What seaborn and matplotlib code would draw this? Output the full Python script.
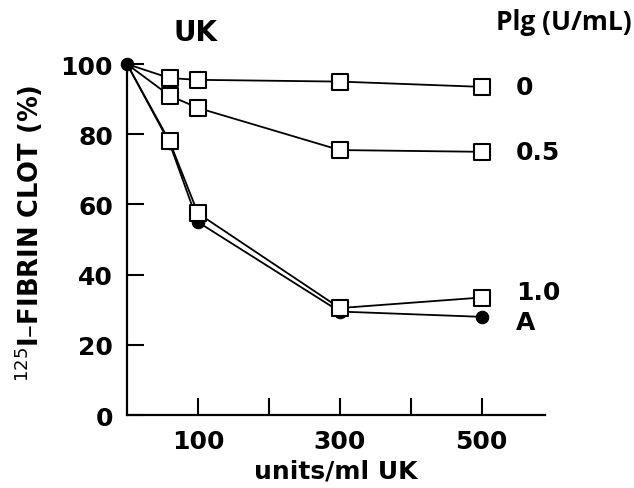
import pandas as pd
import matplotlib
matplotlib.use("Agg")
import matplotlib.pyplot as plt
import seaborn as sns

# UK concentration (units/ml)
uk_units = [0, 60, 100, 300, 500]

# 125I-fibrin clot remaining (%) for each plasminogen level
plg_0 = [100, 96, 95.5, 95, 93.5]
plg_05 = [100, 91, 87.5, 75.5, 75]
plg_10 = [100, 78, 57.5, 30.5, 33.5]
series_a = [100, 77.5, 55, 29.5, 28]

series_names = ["0", "0.5", "1.0", "A"]
label_y = [93.5, 75, 35, 26.5]

df = pd.DataFrame({
    "units": uk_units * 4,
    "clot": plg_0 + plg_05 + plg_10 + series_a,
    "plg": [n for n in series_names for _ in uk_units],
})

sns.set_style("white")
plt.rcParams["font.family"] = ["DejaVu Sans"]
plt.rcParams["text.color"] = "black"
plt.rcParams["axes.labelcolor"] = "black"
plt.rcParams["xtick.color"] = "black"
plt.rcParams["ytick.color"] = "black"

fig = plt.figure(figsize=(6.34, 4.89), dpi=100)
ax = fig.add_axes([0.2003, 0.149, 0.66, 0.718])

# filled circles first so the open squares sit on top
sns.lineplot(data=df[df["plg"] == "A"], x="units", y="clot", ax=ax,
             color="black", lw=1.3, marker="o", markersize=9,
             markerfacecolor="black", markeredgecolor="black", clip_on=False)
for name in ["1.0", "0.5", "0"]:
    sub = df[(df["plg"] == name) & (df["units"] > 0)]
    full = df[df["plg"] == name]
    sns.lineplot(data=full, x="units", y="clot", ax=ax, color="black",
                 lw=1.3, clip_on=False)
    sns.scatterplot(data=sub, x="units", y="clot", ax=ax, marker="s", s=120,
                    facecolor="white", edgecolor="black", linewidth=1.5,
                    zorder=5, clip_on=False)

ax.set_xlim(0, 590)
ax.set_ylim(0, 100)
sns.despine(ax=ax)
for s in ["left", "bottom"]:
    ax.spines[s].set_linewidth(1.6)
    ax.spines[s].set_color("black")

ax.set_yticks([0, 20, 40, 60, 80, 100])
ax.set_yticklabels(["0", "20", "40", "60", "80", "100"])
ax.set_xticks([100, 200, 300, 400, 500])
ax.set_xticklabels(["100", "", "300", "", "500"])
ax.tick_params(axis="both", direction="in", length=12, width=1.5,
               color="black", labelsize=18, pad=10, bottom=True, left=True)
for lab in ax.get_xticklabels() + ax.get_yticklabels():
    lab.set_fontweight("bold")

ax.set_xlabel("units/ml UK", fontsize=18, fontweight="bold", labelpad=4)
ax.set_ylabel(r"$^{125}$I–FIBRIN CLOT (%)", fontsize=18.5, fontweight="bold",
              va="center")
ax.yaxis.set_label_coords(-0.235, 0.52)

for name, y in zip(series_names, label_y):
    ax.text(548, y, name, fontsize=18, fontweight="bold", va="center",
            ha="left", clip_on=False)

fig.text(0.3076, 0.9325, "UK", fontsize=20, fontweight="bold",
         ha="center", va="center")
fig.text(0.997, 0.953, "Plg (U/mL)", fontsize=19, fontweight="bold",
         ha="right", va="center", family=["Open Sans", "DejaVu Sans"])

fig.savefig("out.png", dpi=100)
